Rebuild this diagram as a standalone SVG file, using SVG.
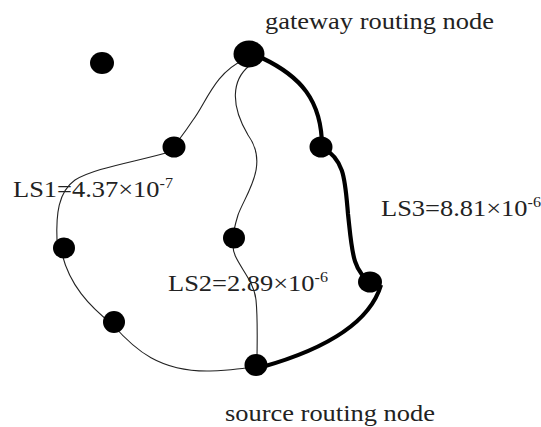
<svg xmlns="http://www.w3.org/2000/svg" width="541" height="427" viewBox="0 0 541 427">
<style>
.t{font-family:"Liberation Serif",serif;font-size:23px;fill:#222}
.s{font-size:14px}
.thin{fill:none;stroke:#222;stroke-width:1.1}
.thick{fill:none;stroke:#000;stroke-width:4.2}
.n{fill:#000}
</style>
<rect width="541" height="427" fill="#fff"/>
<g id="connectors">
<path class="thin" d="M244,60 C215,72 205,105 193,120 C185,132 178,142 170,150"/>
<path class="thin" d="M170,152 C130,163 95,168 75,180 C58,192 56,215 57,240"/>
<path class="thin" d="M62,254 C70,285 88,305 113,325 C135,350 160,372 210,371 C235,370 248,368 256,366"/>
<path class="thin" d="M249,66 C232,80 230,105 248,135 C270,165 245,195 238,215 C234,228 232,240 233,246 C233,262 254,278 256,300 C258,320 257,345 257,362"/>
<path class="thick" d="M262,58 C300,76 322,100 322,147"/>
<path class="thick" d="M322,147 C345,160 345,180 348,214 C352,250 352,272 372,283"/>
<path class="thick" d="M381,285 C372,315 340,345 262,367"/>
</g>
<g id="n-gateway"><ellipse class="n" cx="249" cy="54" rx="15.5" ry="13.5"/></g>
<g id="n-isolated"><ellipse class="n" cx="102" cy="63" rx="12" ry="11"/></g>
<g id="n-a"><ellipse class="n" cx="174" cy="147" rx="11.5" ry="10.5"/></g>
<g id="n-b"><ellipse class="n" cx="321" cy="147" rx="11.5" ry="10.5"/></g>
<g id="n-c"><ellipse class="n" cx="64" cy="248" rx="11" ry="10.5"/></g>
<g id="n-d"><ellipse class="n" cx="234" cy="238" rx="11" ry="10.5"/></g>
<g id="n-e"><ellipse class="n" cx="370" cy="282" rx="12" ry="10.5"/></g>
<g id="n-f"><ellipse class="n" cx="114" cy="322" rx="11" ry="11"/></g>
<g id="n-source"><ellipse class="n" cx="256" cy="365" rx="11.5" ry="11"/></g>
<g id="labels">
<text class="t" transform="translate(265,29) scale(1.15,1)">gateway routing node</text>
<text class="t" transform="translate(225,421) scale(1.15,1)">source routing node</text>
<text class="t" transform="translate(13,197) scale(1.15,1)">LS1=4.37×10<tspan class="s" dy="-9">-7</tspan></text>
<text class="t" transform="translate(168,291) scale(1.15,1)">LS2=2.89×10<tspan class="s" dy="-9">-6</tspan></text>
<text class="t" transform="translate(381,216) scale(1.15,1)">LS3=8.81×10<tspan class="s" dy="-9">-6</tspan></text>
</g>
</svg>
